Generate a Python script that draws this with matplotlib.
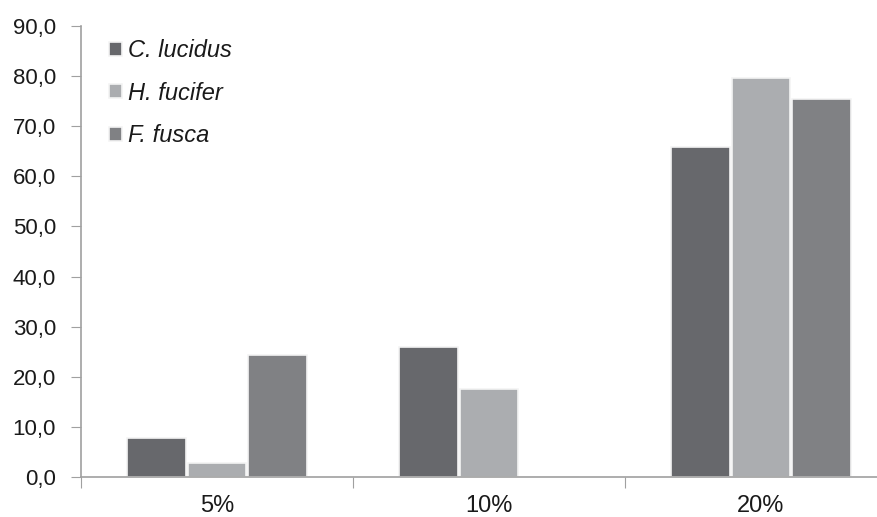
import numpy as np
import matplotlib
matplotlib.use("Agg")
import matplotlib.pyplot as plt
from matplotlib.ticker import FixedLocator, FuncFormatter

plt.rcParams['font.family'] = ['Liberation Sans', 'DejaVu Sans']

# dados
concentracoes = ["5%", "10%", "20%"]
especies = ["C. lucidus", "H. fucifer", "F. fusca"]
c_lucidus = [7.8, 26.0, 65.9]
h_fucifer = [2.8, 17.6, 79.6]
f_fusca = [24.4, 0.0, 75.5]
cores = ["#67686c", "#abadb0", "#808184"]

series = [c_lucidus, h_fucifer, f_fusca]

fig = plt.figure(figsize=(8.77, 5.17), dpi=100)
ax = fig.add_axes([81 / 877, 40 / 517, 816 / 877, 451 / 517])

x = np.arange(len(concentracoes))
largura = 0.215
for i, (nome, vals) in enumerate(zip(especies, series)):
    pos = x + (i - 1) * (largura + 0.008)
    ax.bar(pos, vals, largura, color=cores[i], edgecolor="#f4f4f4", linewidth=1.2, label=nome)

ax.set_xlim(-0.5, 2.5)
ax.set_ylim(0, 90)
ax.set_yticks(np.arange(0, 91, 10))
ax.yaxis.set_major_formatter(FuncFormatter(lambda v, p: f"{v:.1f}".replace(".", ",")))

# marcas entre categorias, rótulos no centro
ax.xaxis.set_major_locator(FixedLocator([-0.5, 0.5, 1.5, 2.5]))
ax.xaxis.set_major_formatter(FuncFormatter(lambda v, p: ""))
ax.xaxis.set_minor_locator(FixedLocator(x))
ax.set_xticklabels(concentracoes, minor=True)
ax.tick_params(axis="x", which="major", length=8, color="#a0a0a0", direction="out")
ax.tick_params(axis="x", which="minor", length=0, pad=13, labelsize=17, labelcolor="#1a1a1a")
ax.tick_params(axis="y", length=7, color="#a0a0a0", labelsize=16, labelcolor="#1a1a1a", pad=11)

for s in ["top", "right"]:
    ax.spines[s].set_visible(False)
for s in ["left", "bottom"]:
    ax.spines[s].set_color("#a0a0a0")
    ax.spines[s].set_linewidth(1.2)

leg = ax.legend(loc="upper left", bbox_to_anchor=(88 / 877, 1 - 18 / 517), bbox_transform=fig.transFigure,
                frameon=False, handlelength=0.55, handleheight=0.55, handletextpad=0.25,
                labelspacing=0.82, prop={"style": "italic", "size": 17})
for t in leg.get_texts():
    t.set_color("#1a1a1a")

fig.savefig("out.png", dpi=100)
